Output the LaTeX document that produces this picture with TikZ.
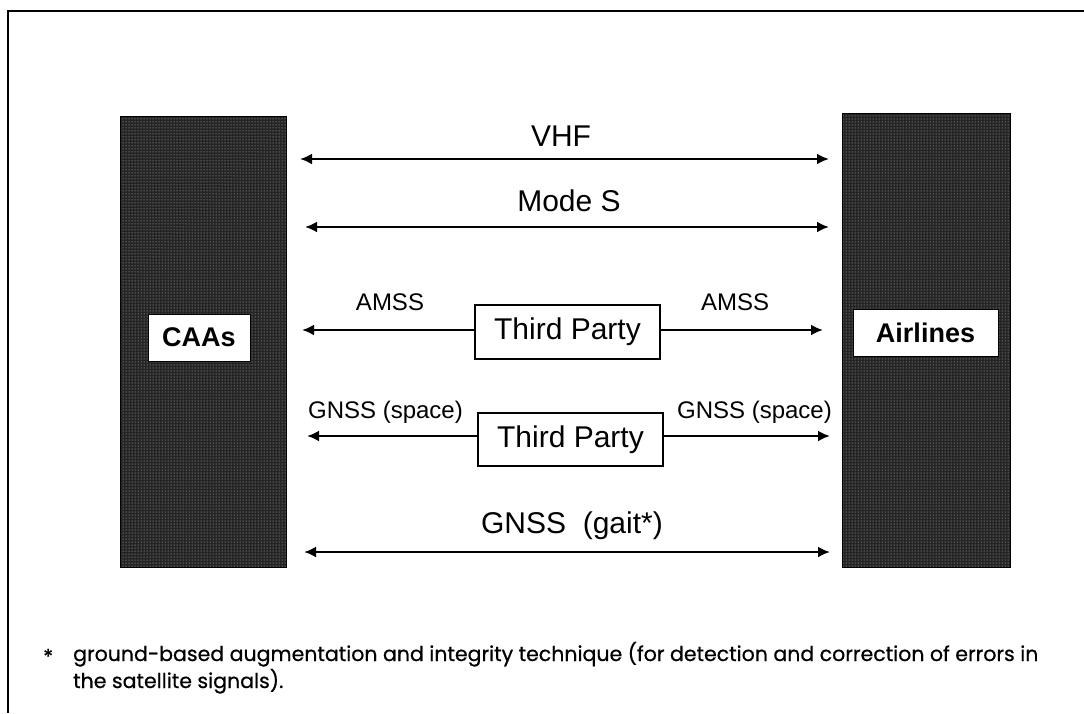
\documentclass[tikz,border=0pt]{standalone}
\usepackage{fontspec}
\setmainfont{Liberation Sans}
\newfontfamily\notefont[FakeBold=0.6]{Poppins}
\usetikzlibrary{arrows.meta,patterns}

\begin{document}
\begin{tikzpicture}[x=1pt,y=-1pt,
  frameline/.style={line width=2pt},
  pillar/.style={draw=black, line width=1pt, preaction={fill=black!86},
    pattern=dots, pattern color=white!78!black, inner sep=0pt},
  namebox/.style={draw=black, fill=white, line width=1pt, inner sep=0pt,
    minimum height=47pt, font=\fontsize{27}{30}\selectfont\bfseries},
  partybox/.style={draw=black, fill=white, line width=1.1pt, inner sep=0pt,
    minimum width=185pt, minimum height=54pt, font=\fontsize{30}{34}\selectfont},
  biglbl/.style={inner sep=0pt, anchor=base, font=\fontsize{30}{34}\selectfont},
  smalllbl/.style={inner sep=0pt, anchor=base, font=\fontsize{24}{28}\selectfont},
  link/.style={line width=2.4pt, -{Latex[length=12pt,width=11pt]}},
  twoway/.style={line width=2.4pt, {Latex[length=12pt,width=11pt]}-{Latex[length=12pt,width=11pt]}},
  note/.style={inner sep=0pt, anchor=base west, font=\notefont\fontsize{20.5}{24}\selectfont}
]
\useasboundingbox (0,0) rectangle (1084,713);

% open frame: top and left rules only
\coordinate (frameTL) at (8,11);
\coordinate (frameTR) at (1084,11);
\coordinate (frameBL) at (8,713);
\draw[frameline] (frameTR) -- (frameTL) -- (frameBL);

% the two parties
\node[pillar, minimum width=166pt, minimum height=451pt] (caasbg) at (203,341.5) {};
\node[pillar, minimum width=168pt, minimum height=454pt] (airbg) at (926,340) {};
\node[namebox, minimum width=102pt] (caas) at (199,337.5) {CAAs};
\node[namebox, minimum width=145pt] (air) at (925.5,332.5) {Airlines};

% direct links
\node[biglbl] (vhf) at (561,146) {VHF};
\coordinate (vhfL) at (300,159);
\coordinate (vhfR) at (829,159);
\draw[twoway] (vhfL) -- (vhfR);

\node[biglbl] (modes) at (569,211) {Mode S};
\coordinate (modesL) at (305,227);
\coordinate (modesR) at (829,227);
\draw[twoway] (modesL) -- (modesR);

% links through a third party
\node[partybox] (tp1) at (567.5,332) {Third Party};
\node[smalllbl] (amssL) at (390,310) {AMSS};
\node[smalllbl] (amssR) at (735,310) {AMSS};
\coordinate (amssLtip) at (302,330);
\coordinate (amssRtip) at (823,330);
\draw[link] (tp1.west |- amssLtip) -- (amssLtip);
\draw[link] (tp1.east |- amssRtip) -- (amssRtip);

\node[partybox, minimum height=53pt] (tp2) at (570.5,439.5) {Third Party};
\node[smalllbl] (gnssL) at (385.5,418) {GNSS (space)};
\node[smalllbl] (gnssR) at (754.5,418) {GNSS (space)};
\coordinate (gnssLtip) at (307,436);
\coordinate (gnssRtip) at (830,436);
\draw[link] (tp2.west |- gnssLtip) -- (gnssLtip);
\draw[link] (tp2.east |- gnssRtip) -- (gnssRtip);

% ground-based augmentation
\node[biglbl] (gait) at (572,533) {GNSS\ \ (gait*)};
\coordinate (gaitL) at (304,552);
\coordinate (gaitR) at (830,552);
\draw[twoway] (gaitL) -- (gaitR);

% footnote
\node[note] (star) at (43,664) {*};
\node[note] (note1) at (73,661) {ground-based augmentation and integrity technique (for detection and correction of errors in};
\node[note] (note2) at (73,688) {the satellite signals).};
\end{tikzpicture}
\end{document}
